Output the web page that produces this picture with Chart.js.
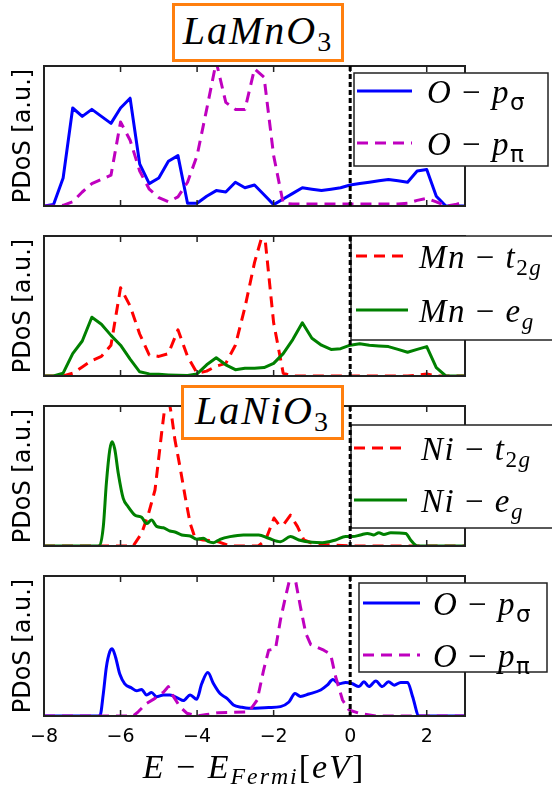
<!DOCTYPE html>
<html>
<head>
<meta charset="utf-8">
<script src="https://cdn.jsdelivr.net/npm/chart.js@4.4.0/dist/chart.umd.min.js"></script>
<style>
  body { margin: 0; background: #fff; width: 552px; height: 793px; position: relative; overflow: hidden; }
  canvas { position: absolute; left: 0; }
  .tbox {
    position: absolute; box-sizing: border-box; border: 3px solid #ff7f0e; background: #fff;
    text-align: center; z-index: 2; color: #000;
    font-family: 'Liberation Serif', serif;
    font-style: italic; font-size: 40px; letter-spacing: 2px;
  }
  .tbox span { display: inline-block; }
  .tbox sub, #xlab sub { font-size: 70%; vertical-align: -0.25em; line-height: 0; }
  .tbox sub { font-style: normal; }
  #xlab {
    position: absolute; left: 0; width: 508px; top: 748px; text-align: center;
    font-family: 'Liberation Serif', serif;
    font-size: 34px; letter-spacing: 2px; color: #000; white-space: nowrap;
  }
  #xlab sub { font-style: italic; }
</style>
</head>
<body>
<div class="tbox" style="left:172px;top:3px;width:172px;height:59px;line-height:50px"><span>LaMnO<sub>3</sub></span></div>
<div class="tbox" style="left:181px;top:385px;width:163px;height:55px;line-height:46px"><span>LaNiO<sub>3</sub></span></div>
<canvas id="p0"></canvas>
<canvas id="p1"></canvas>
<canvas id="p2"></canvas>
<canvas id="p3"></canvas>
<div id="xlab"><i>E</i> − <i>E</i><sub>Fermi</sub>[<i>eV</i>]</div>

<script>
// energy grid (eV) of the LaMnO3 panels
const E_LMO = [-8, -7.75, -7.5, -7.25, -7, -6.75, -6.5, -6.25, -6, -5.75, -5.5, -5.25, -5, -4.75, -4.5,
    -4.25, -4, -3.75, -3.5, -3.25, -3, -2.75, -2.5, -2.25, -2, -1.75, -1.5, -1.25, -1, -0.75, -0.5,
    -0.25, 0, 0.25, 0.5, 0.75, 1, 1.25, 1.5, 1.75, 2, 2.25, 2.5, 2.75, 3];

// LaMnO3, O-p
const LMO_O_SIGMA = [0, 0.01, 0.2, 0.70, 0.64, 0.69, 0.64, 0.59, 0.70, 0.77, 0.30, 0.16, 0.20, 0.32, 0.36,
    0.02, 0.02, 0.07, 0.11, 0.10, 0.17, 0.13, 0.15, 0.08, 0.01, 0.05, 0.09, 0.13, 0.12, 0.11, 0.12,
    0.13, 0.15, 0.16, 0.17, 0.18, 0.19, 0.18, 0.17, 0.25, 0.26, 0.07, 0, 0, 0];
const LMO_O_PI = [0, 0, 0.005, 0.03, 0.10, 0.16, 0.19, 0.22, 0.60, 0.47, 0.25, 0.12, 0.06, 0.03, 0.065,
    0.17, 0.36, 0.69, 1.03, 0.74, 0.69, 0.69, 0.98, 0.92, 0.36, 0.02, 0.014, 0.014, 0.014, 0.014, 0.014,
    0.014, 0.014, 0.014, 0.014, 0.014, 0.014, 0.015, 0.02, 0.04, 0.055, 0.03, 0, 0.01, 0.03];

// LaMnO3, Mn-d
const LMO_MN_T2G = [0, 0, 0, 0.02, 0.065, 0.11, 0.14, 0.22, 0.63, 0.50, 0.30, 0.15, 0.14, 0.16, 0.33,
    0.14, 0.02, 0.035, 0.07, 0.09, 0.22, 0.49, 0.81, 1.05, 0.38, 0.02, 0, 0, 0, 0, 0,
    0, 0, 0, 0, 0, 0, 0, 0, 0.005, 0.015, 0, 0, 0, 0];
const LMO_MN_EG = [0, 0, 0.02, 0.16, 0.25, 0.42, 0.37, 0.29, 0.22, 0.12, 0.03, 0.015, 0.012, 0.008, 0.005,
    0.003, 0.015, 0.08, 0.13, 0.08, 0.045, 0.055, 0.055, 0.06, 0.09, 0.16, 0.26, 0.38, 0.27, 0.22, 0.19,
    0.195, 0.22, 0.23, 0.22, 0.215, 0.21, 0.19, 0.17, 0.19, 0.21, 0.06, 0, 0, 0];

// LaNiO3, Ni-d
const E_NI_T2G = [-8, -5.67, -5.45, -5.27, -5.10, -5.01, -4.93, -4.84, -4.76, -4.66, -4.58, -4.45, -4.31,
    -4.18, -4.05, -3.84, -3.66, -3.44, -3.14, -2.40, -2.21, -1.99, -1.86, -1.75, -1.56, -1.38, -1.21,
    -0.99, -0.64, 0, 3];
const LNO_NI_T2G = [0, 0, 0.09, 0.23, 0.40, 0.61, 0.80, 1.0, 1.08, 0.92, 0.76, 0.57, 0.35,
    0.16, 0.055, 0.043, 0.04, 0.03, 0, 0, 0.043, 0.20, 0.15, 0.15, 0.22, 0.14, 0.043,
    0.02, 0.01, 0, 0];
const E_NI_EG = [-8, -6.55, -6.45, -6.37, -6.28, -6.22, -6.15, -6.06, -5.93, -5.80, -5.62, -5.45, -5.32,
    -5.19, -5.06, -4.88, -4.71, -4.58, -4.40, -4.18, -4.01, -3.84, -3.70, -3.57, -3.40, -3.14, -2.79,
    -2.39, -2.13, -1.82, -1.56, -1.34, -0.99, -0.73, -0.38, -0.12, 0.06, 0.27, 0.45, 0.62, 0.75, 0.88,
    1.06, 1.45, 1.58, 1.76, 3];
const LNO_NI_EG = [0, 0, 0.14, 0.45, 0.69, 0.745, 0.69, 0.52, 0.34, 0.28, 0.22, 0.205, 0.16,
    0.185, 0.14, 0.13, 0.107, 0.10, 0.079, 0.071, 0.048, 0.055, 0.031, 0.024, 0.048, 0.067, 0.079,
    0.079, 0.055, 0.031, 0.067, 0.043, 0.026, 0.024, 0.043, 0.067, 0.067, 0.079, 0.09, 0.079, 0.095, 0.083,
    0.095, 0.09, 0.043, 0, 0];

// LaNiO3, O-p
const E_NO_SIGMA = [-8, -6.54, -6.45, -6.37, -6.28, -6.22, -6.13, -6.02, -5.89, -5.71, -5.58, -5.45, -5.32,
    -5.19, -5.06, -4.88, -4.71, -4.49, -4.36, -4.18, -4.01, -3.88, -3.72, -3.57, -3.40, -3.22, -3.05,
    -2.83, -2.65, -2.13, -1.82, -1.60, -1.44, -1.30, -1.08, -0.77, -0.60, -0.45, -0.29, -0.12, 0.06,
    0.23, 0.36, 0.49, 0.67, 0.84, 1.0, 1.15, 1.32, 1.50, 1.63, 1.80, 3];
const LNO_O_SIGMA = [0, 0, 0.16, 0.35, 0.46, 0.48, 0.42, 0.30, 0.23, 0.20, 0.18, 0.19, 0.15,
    0.167, 0.138, 0.15, 0.15, 0.126, 0.11, 0.15, 0.12, 0.23, 0.31, 0.23, 0.16, 0.126, 0.079,
    0.062, 0.055, 0.06, 0.067, 0.10, 0.16, 0.14, 0.157, 0.186, 0.22, 0.26, 0.23, 0.24, 0.23,
    0.21, 0.245, 0.21, 0.25, 0.21, 0.245, 0.22, 0.24, 0.24, 0.14, 0, 0];
const E_NO_PI = [-8, -5.67, -5.54, -5.32, -5.10, -4.88, -4.75, -4.62, -4.45, -4.27, -4.0, -3.75, -3.44,
    -2.65, -2.43, -2.26, -2.13, -1.95, -1.82, -1.69, -1.56, -1.50, -1.43, -1.30, -1.16, -1.03, -0.69,
    -0.51, -0.38, -0.20, -0.03, 0.23, 0.67, 3];
const LNO_O_PI = [0, 0, 0.03, 0.09, 0.126, 0.17, 0.21, 0.14, 0.067, 0.02, 0, 0.01, 0.024,
    0.03, 0.114, 0.33, 0.47, 0.48, 0.69, 0.85, 1.0, 1.04, 0.97, 0.78, 0.59, 0.51, 0.47,
    0.44, 0.28, 0.114, 0.043, 0.02, 0, 0];

const PANEL_TOP = [66, 236, 406, 576];
const PANEL_H = 140;
const PAD = 4;
const XAXIS_H = 40;

const BLUE = '#0000ff', MAGENTA = '#bf00bf', RED = '#ff0000', GREEN = '#008000';
const DASH = [11, 7];
const SERIF = "'Liberation Serif', serif";

// legend labels, drawn as math-like rich text
const LBL_O_SIGMA = [{ t: 'O', it: true }, { t: ' − ' }, { t: 'p', it: true }, { t: 'σ', sub: true, sans: true }];
const LBL_O_PI = [{ t: 'O', it: true }, { t: ' − ' }, { t: 'p', it: true }, { t: 'π', sub: true, sans: true }];
const LBL_MN_T2G = [{ t: 'Mn', it: true }, { t: ' − ' }, { t: 't', it: true }, { t: '2', sub: true }, { t: 'g', sub: true, it: true }];
const LBL_MN_EG = [{ t: 'Mn', it: true }, { t: ' − ' }, { t: 'e', it: true }, { t: 'g', sub: true, it: true }];
const LBL_NI_T2G = [{ t: 'Ni', it: true }, { t: ' − ' }, { t: 't', it: true }, { t: '2', sub: true }, { t: 'g', sub: true, it: true }];
const LBL_NI_EG = [{ t: 'Ni', it: true }, { t: ' − ' }, { t: 'e', it: true }, { t: 'g', sub: true, it: true }];

const LEG_FONT = 33;
const TRACK = 1.5;

const drawRich = (ctx, parts, x, y) => {
    parts.forEach((p) => {
        const s = p.sub ? LEG_FONT * 0.7 : LEG_FONT;
        ctx.font = `${p.it ? 'italic ' : ''}${s}px ${p.sans ? "'DejaVu Sans'" : SERIF}`;
        const yy = p.sub ? y + LEG_FONT * 0.22 : y;
        for (const ch of p.t) {
            ctx.fillText(ch, x, yy);
            x += ctx.measureText(ch).width + TRACK;
        }
    });
};

const decor = {
    id: 'decor',
    afterDraw(chart, args, opts) {
        const { ctx, chartArea: a, scales: { x } } = chart;
        const off = opts.canvasTop;
        ctx.save();

        // axes frame
        ctx.strokeStyle = '#222';
        ctx.lineWidth = 2;
        ctx.strokeRect(a.left, a.top, a.right - a.left, a.bottom - a.top);

        // inward ticks, top and bottom
        ctx.lineWidth = 1.5;
        x.ticks.forEach((t) => {
            const px = x.getPixelForValue(t.value);
            if (px <= a.left + 1 || px >= a.right - 1) return;
            ctx.beginPath();
            ctx.moveTo(px, a.top); ctx.lineTo(px, a.top + 6);
            ctx.moveTo(px, a.bottom); ctx.lineTo(px, a.bottom - 6);
            ctx.stroke();
        });

        // legend box
        const [x1, y1, x2, y2] = opts.box;
        ctx.fillStyle = '#fff';
        ctx.fillRect(x1, y1 - off, x2 - x1, y2 - y1);
        ctx.strokeStyle = '#222';
        ctx.lineWidth = 1.5;
        ctx.strokeRect(x1, y1 - off, x2 - x1, y2 - y1);
        opts.rows.forEach((ry, i) => {
            const ds = chart.data.datasets[i];
            ctx.strokeStyle = ds.borderColor;
            ctx.lineWidth = 3;
            ctx.setLineDash(ds.borderDash || []);
            ctx.beginPath();
            ctx.moveTo(opts.sample[0], ry - off);
            ctx.lineTo(opts.sample[1], ry - off);
            ctx.stroke();
            ctx.setLineDash([]);
            ctx.fillStyle = '#000';
            drawRich(ctx, opts.labels[i], opts.textX, ry - off + 12);
        });

        // Fermi level
        const zx = x.getPixelForValue(0);
        ctx.strokeStyle = '#000';
        ctx.lineWidth = 3;
        ctx.setLineDash([5, 3]);
        ctx.beginPath();
        ctx.moveTo(zx, a.top);
        ctx.lineTo(zx, a.bottom);
        ctx.stroke();
        ctx.restore();
    },
};

const series = (xs, ys, color, dashed, smooth, order) => ({
    data: xs.map((x, k) => ({ x, y: ys[k] })),
    borderColor: color,
    borderWidth: 3,
    borderDash: dashed ? DASH : [],
    borderJoinStyle: 'round',
    pointRadius: 0,
    tension: 0,
    cubicInterpolationMode: smooth ? 'monotone' : 'default',
    fill: false,
    order,
});

const buildPanel = (i, datasets, legend, showTicks) => {
    const canvasTop = PANEL_TOP[i] - PAD;
    const canvas = document.getElementById('p' + i);
    canvas.width = 552;
    canvas.height = PAD + PANEL_H + (showTicks ? XAXIS_H : PAD);
    canvas.style.top = canvasTop + 'px';

    return new Chart(canvas, {
        type: 'line',
        data: { datasets },
        options: {
            responsive: false,
            animation: false,
            devicePixelRatio: 1,
            layout: { padding: { left: 0, right: 87, top: PAD, bottom: showTicks ? 0 : PAD } },
            plugins: {
                legend: { display: false },
                tooltip: { enabled: false },
                decor: { canvasTop, ...legend },
            },
            scales: {
                x: {
                    type: 'linear',
                    min: -8, max: 3,
                    display: showTicks,
                    afterFit: (s) => { s.height = showTicks ? XAXIS_H : 0; },
                    grid: { display: false, drawTicks: false },
                    border: { display: false },
                    ticks: {
                        stepSize: 2,
                        includeBounds: false,
                        padding: 10,
                        color: '#000',
                        font: { family: 'DejaVu Sans', size: 19 },
                        callback: (v) => (v < 0 ? '−' + Math.abs(v) : String(v)),
                    },
                },
                y: {
                    min: 0, max: 1,
                    afterFit: (s) => { s.width = 44; },
                    grid: { display: false },
                    border: { display: false },
                    ticks: { display: false },
                    title: {
                        display: true,
                        text: 'PDoS [a.u.]',
                        color: '#000',
                        font: { family: 'DejaVu Sans', size: 24 },
                        padding: { top: 9, bottom: 0 },
                    },
                },
            },
        },
        plugins: [decor],
    });
};

buildPanel(0, [
    series(E_LMO, LMO_O_SIGMA, BLUE, false, false, 1),
    series(E_LMO, LMO_O_PI, MAGENTA, true, false, 0),
], { box: [354, 73, 548, 166], rows: [91, 143], sample: [357, 412], textX: 427, labels: [LBL_O_SIGMA, LBL_O_PI] }, false);

buildPanel(1, [
    series(E_LMO, LMO_MN_T2G, RED, true, false, 1),
    series(E_LMO, LMO_MN_EG, GREEN, false, false, 0),
], { box: [351, 236, 570, 340], rows: [256, 310], sample: [356, 408], textX: 419, labels: [LBL_MN_T2G, LBL_MN_EG] }, false);

buildPanel(2, [
    series(E_NI_T2G, LNO_NI_T2G, RED, true, false, 1),
    series(E_NI_EG, LNO_NI_EG, GREEN, false, true, 0),
], { box: [351, 425, 570, 528], rows: [448, 500], sample: [354, 407], textX: 421, labels: [LBL_NI_T2G, LBL_NI_EG] }, false);

buildPanel(3, [
    series(E_NO_SIGMA, LNO_O_SIGMA, BLUE, false, true, 1),
    series(E_NO_PI, LNO_O_PI, MAGENTA, true, false, 0),
], { box: [359, 583, 547, 672], rows: [603, 655], sample: [363, 420], textX: 433, labels: [LBL_O_SIGMA, LBL_O_PI] }, true);
</script>
</body>
</html>
